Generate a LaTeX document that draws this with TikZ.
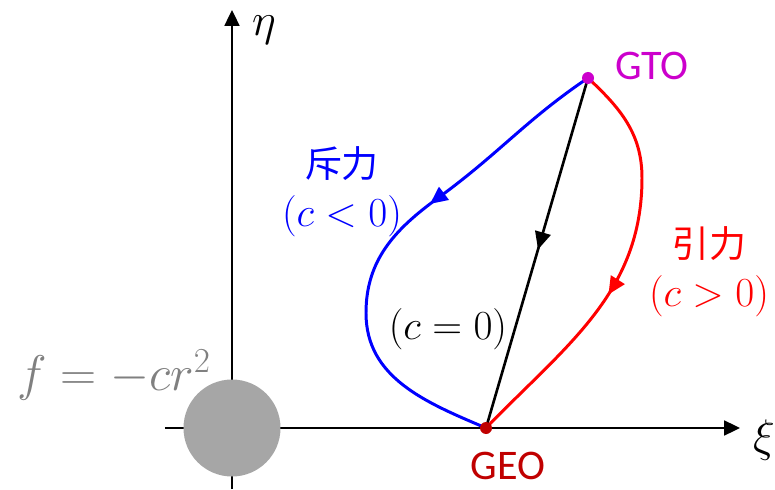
\RequirePackage{fix-cm}
\documentclass[tikz,border=0pt]{standalone}
\usepackage{fontspec}
\setsansfont{Carlito}
\newfontfamily\cjk{Noto Sans CJK JP}
\usetikzlibrary{arrows.meta, decorations.markings}

\definecolor{gtocol}{RGB}{204,0,204}
\definecolor{geocol}{RGB}{192,0,0}
\definecolor{earthgray}{RGB}{166,166,166}
\definecolor{flabel}{RGB}{128,128,128}

\tikzset{
  axis/.style={line width=1.1pt, -{Triangle[length=9pt,width=8.5pt]}},
  orbit/.style={line width=1.7pt},
  midarrow/.style={postaction={decorate}, decoration={markings,
      mark=at position #1 with {\arrow{Triangle[length=10pt,width=9pt]}}}},
  lbl/.style={font=\fontsize{23.5}{28}\selectfont, align=center},
}

\begin{document}
\begin{tikzpicture}
  \useasboundingbox (-4.64,-1.22) rectangle (10.86,8.56);

  % Axes and central body
  \draw[axis] (-1.34,0) -- (10.16,0);
  \draw[axis] (0,-1.22) -- (0,8.36);
  \fill[earthgray] (0,0) circle (0.97);
  \node[lbl, font=\fontsize{26}{30}\selectfont] (eta) at (0.64,7.96) {$\eta$};
  \node[lbl, font=\fontsize{26}{30}\selectfont] (xi) at (10.64,-0.24) {$\xi$};
  \node[lbl, text=flabel, font=\fontsize{28.5}{32}\selectfont] (force) at (-2.36,1.06) {$f=-cr^2$};

  % Orbit end points
  \coordinate (gto) at (7.12,7.0);
  \coordinate (geo) at (5.08,0);
  \coordinate (bmid) at (4.12,4.6);    % repulsive, upper part
  \coordinate (bleft) at (2.68,2.3);   % leftmost point, repulsive
  \coordinate (rright) at (8.2,5.0);   % rightmost point, attractive

  % Transfer paths
  \draw[orbit, blue, midarrow=0.395] (gto) to[out=214, in=36] (bmid)
    to[out=216, in=90] (bleft) to[out=270, in=157] (geo);
  \draw[orbit, red, midarrow=0.57] (gto) to[out=-43, in=90] (rright) to[out=270, in=46] (geo);
  \draw[line width=1.5pt, midarrow=0.49] (gto) -- (geo);

  \fill[gtocol] (gto) circle (0.12);
  \fill[geocol] (geo) circle (0.12);
  \node[text=gtocol, font=\sffamily\fontsize{24}{28}\selectfont] (gtolbl) at (8.4,7.24) {GTO};
  \node[text=geocol, font=\sffamily\fontsize{24}{28}\selectfont] (geolbl) at (5.52,-0.76) {GEO};

  % Labels
  \node[lbl, text=blue] (rep) at (2.2,4.73) {{\cjk\fontsize{21}{27}\selectfont 斥力}\\$(c<0)$};
  \node[lbl, text=red] (att) at (9.54,3.12) {{\cjk\fontsize{21}{27}\selectfont 引力}\\$(c>0)$};
  \node[lbl] (zero) at (4.32,1.98) {$(c=0)$};
\end{tikzpicture}
\end{document}
